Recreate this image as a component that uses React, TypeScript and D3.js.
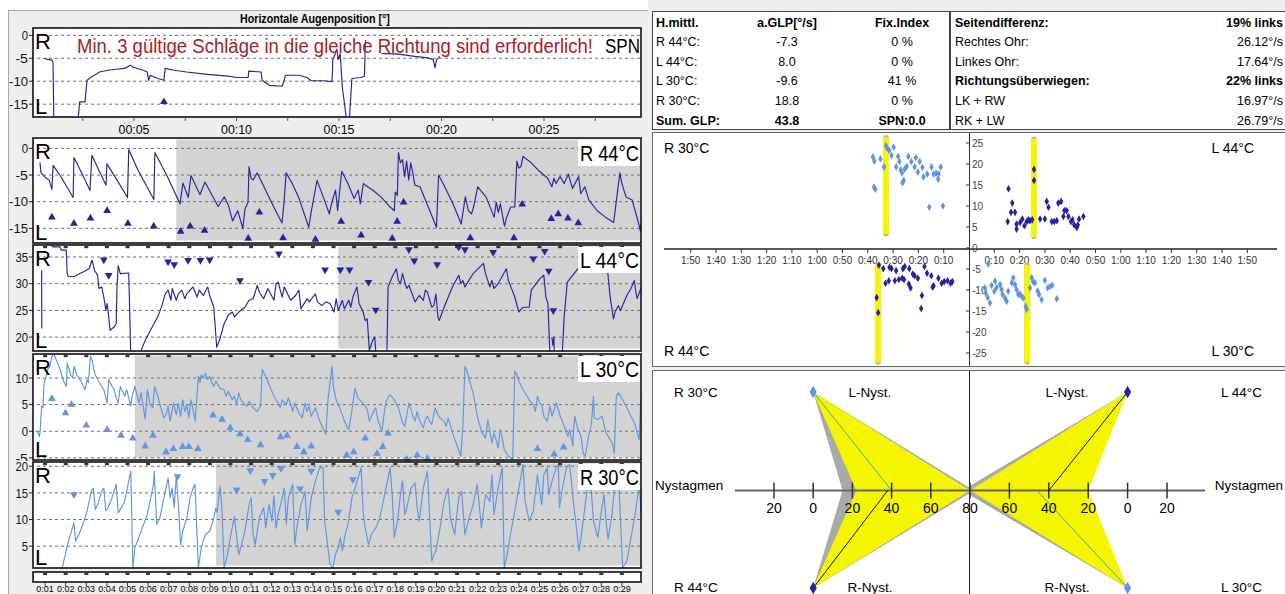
import React, { useEffect, useRef } from 'react';
import * as d3 from 'd3';

const W = 1285, H = 594;
const DARK = '#2424a2';
const LIGHT = '#6094e4';
const SHADE = '#d3d3d3';
const NARROW = "'Liberation Sans Narrow','Arial Narrow','Liberation Sans',Arial,sans-serif";
const SANS = "'Liberation Sans',Arial,sans-serif";

// ---------- time series (t in s, value in deg) ----------
const SPN_TRACE: number[][] = [
  [0.63,-5.1],[0.99,-5.4],[1.05,-5.8],[1.09,-18.5],[1.2,NaN],
  [2.27,-18.5],[2.35,-14.5],[2.61,-14.5],[2.71,-9.8],[2.92,-9.1],[3.32,-8.0],[3.73,-7.6],[4.13,-7.4],[4.54,-7.2],[4.84,-6.5],[4.94,-6.9],[5.45,-7.6],[5.65,-8.0],[5.71,-9.8],[5.79,-8.7],[6.16,-9.4],[6.46,-9.8],[6.52,-7.2],[6.96,-7.6],[7.57,-8.0],[8.58,-8.5],[9.6,-8.9],[10.0,-9.2],[10.57,-9.2],[10.6,-7.8],[11.2,-8.0],[11.25,-9.8],[11.6,-10.9],[12.23,-11.1],[12.39,-8.7],[13.04,-8.7],[13.44,-9.2],[13.64,-9.9],[14.25,-9.9],[14.66,-10.1],[14.7,-5.3],[14.82,-4.0],[14.9,-3.0],[14.96,-5.3],[15.06,-4.0],[15.16,-11.2],[15.37,-18.5],[15.51,-18.0],[15.63,-9.4],[16.07,-9.2],[16.24,-8.9],[16.27,-4.0],[16.3,-1.0],[16.5,NaN],
  [17.08,-4.0],[17.3,-4.0],[17.89,-4.1],[18.7,-4.6],[19.31,-4.9],[19.6,-5.3],[19.68,-7.1],[19.76,-5.3],[19.92,-4.6]
];
const SPN_TRI: number[][] = [[6.46,-14.5]];

const R44_TRACE: number[][] = [
  [0.75,-2.6],[0.8,-4.6],[1.0,-5.4],[1.2,-6.0],[1.33,-7.7],[1.39,-3.2],[1.8,-5.5],[2.36,-9.2],[2.4,-1.7],[2.8,-4.8],[3.18,-7.9],[3.27,-1.3],[3.6,-4.0],[3.96,-6.9],[4.0,-2.9],[4.5,-6.0],[5.0,-9.2],[5.06,-0.2],[5.5,-4.0],[6.28,-9.6],[6.33,-0.8],[6.9,-5.0],[7.55,-10.4],[7.69,-6.5],[7.95,-9.2],[8.08,-5.1],[8.52,-8.7],[8.76,-6.3],[9.4,-10.9],[9.7,-9.1],[9.9,-10.7],[10.1,-13.6],[10.35,-11.7],[10.6,-15.0],[10.7,-11.4],[10.85,-10.1],[10.9,-3.4],[11.0,-5.6],[11.1,-5.9],[11.3,-4.6],[11.7,-7.8],[12.1,-11.0],[12.5,-14.0],[12.6,-10.1],[12.7,-4.6],[13.0,-6.6],[13.3,-9.1],[13.8,-14.8],[13.9,-12.3],[14.2,-6.0],[14.5,-9.1],[14.8,-12.3],[14.9,-10.4],[15.1,-7.8],[15.2,-11.7],[15.4,-4.3],[15.7,-6.6],[16.0,-9.4],[16.2,-7.8],[16.3,-10.4],[16.45,-6.6],[16.55,-6.9],[16.9,-7.8],[17.3,-9.1],[17.75,-11.0],[17.95,-11.7],[18.0,-8.2],[18.1,-8.8],[18.15,-0.8],[18.25,-2.7],[18.35,-2.1],[18.45,-5.3],[18.55,-2.4],[18.65,-5.9],[18.75,-2.7],[18.85,-4.6],[18.95,-6.9],[19.2,-7.2],[19.6,-11.0],[20.0,-14.8],[20.1,-5.0],[20.4,-7.2],[20.8,-10.4],[21.2,-14.2],[21.4,-9.1],[21.55,-11.7],[21.7,-12.3],[21.8,-11.0],[22.0,-7.2],[22.4,-9.1],[22.8,-12.9],[22.9,-10.1],[23.0,-12.0],[23.1,-10.4],[23.3,-14.6],[23.4,-13.0],[23.6,-11.0],[23.8,-11.0],[23.9,-2.4],[24.0,-3.7],[24.1,-3.4],[24.2,-1.5],[24.6,-2.7],[25.0,-4.3],[25.4,-5.6],[25.6,-7.2],[25.7,-5.6],[25.8,-6.6],[26.0,-5.3],[26.2,-6.6],[26.4,-4.8],[26.6,-7.5],[26.9,-5.3],[27.0,-8.5],[27.2,-7.2],[27.4,-9.7],[27.8,-11.7],[28.2,-12.9],[28.6,-13.9],[28.9,-4.6],[29.0,-6.6],[29.2,-9.1],[29.5,-9.7],[29.8,-13.9],[29.9,-15.5],[30.0,-11.7]
];
const R44_TRI: number[][] = [
  [1.33,-12.9],[2.40,-14.1],[3.20,-13.1],[4.01,-11.7],[5.02,-14.1],[6.27,-14.6],[7.58,-15.6],[8.04,-14.6],[8.74,-15.4],[10.86,-16.9],[11.40,-12.0],[12.55,-16.8],[14.12,-17.1],[15.37,-13.7],[16.34,-16.3],[17.85,-16.9],[18.09,-13.7],[18.40,-10.1],[21.64,-16.8],[23.76,-16.8],[24.16,-10.5],[25.57,-13.2],[25.91,-12.3],[26.38,-13.1],[26.88,-14.0]
];

const L44_TRACE: number[][] = [
  [0.83,32.5],[0.84,21.6],[0.9,NaN],
  [1.23,37.5],[1.39,36.9],[1.73,36.9],[1.79,36.3],[2.03,36.3],[2.07,31.9],[2.13,31.3],[2.44,31.4],[2.84,32.2],[3.14,32.8],[3.28,34.4],[3.40,32.5],[3.55,31.6],[3.61,29.1],[3.75,29.4],[3.85,27.5],[3.95,25.0],[4.01,26.3],[4.09,23.8],[4.15,21.3],[4.35,21.9],[4.45,22.5],[4.49,29.4],[4.55,33.4],[4.65,31.9],[5.06,32.0],[5.16,16.5],[5.3,NaN],
  [5.56,16.5],[5.86,19.4],[6.16,21.6],[6.47,23.8],[6.67,25.9],[6.83,28.1],[6.97,28.8],[7.11,26.9],[7.17,29.1],[7.37,26.9],[7.47,28.1],[7.64,28.8],[7.78,27.2],[7.88,28.1],[8.18,29.4],[8.38,27.5],[8.48,28.8],[8.68,27.8],[8.89,29.4],[8.99,27.8],[9.19,25.6],[9.33,18.1],[9.49,19.7],[9.69,22.5],[9.89,24.1],[10.09,24.7],[10.19,23.8],[10.40,24.7],[10.70,25.6],[10.90,26.9],[11.10,27.2],[11.30,29.7],[11.40,28.4],[11.61,27.2],[11.81,29.1],[12.11,26.9],[12.21,30.0],[12.31,30.3],[12.51,27.5],[12.61,29.4],[12.92,26.9],[13.16,27.8],[13.32,28.8],[13.42,25.3],[13.72,27.2],[13.82,26.6],[14.12,28.1],[14.22,26.6],[14.43,25.9],[14.63,26.6],[14.83,26.3],[15.03,24.7],[15.13,27.2],[15.23,25.0],[15.43,26.9],[15.53,25.3],[15.74,26.9],[15.84,25.6],[15.94,27.5],[16.14,29.4],[16.24,26.3],[16.44,24.7],[16.54,23.1],[16.64,23.4],[16.74,17.5],[16.90,19.4],[17.00,20.0],[17.07,16.5],[17.3,NaN],
  [17.59,16.5],[17.65,29.4],[17.85,31.3],[18.05,32.8],[18.15,30.6],[18.25,30.0],[18.35,31.9],[18.46,30.3],[18.56,29.1],[18.66,29.7],[18.96,26.6],[19.16,27.8],[19.36,26.9],[19.46,28.8],[19.56,28.4],[19.77,25.6],[19.87,25.9],[19.97,28.1],[20.07,23.8],[20.13,23.1],[20.37,25.6],[20.77,29.4],[21.08,31.6],[21.18,30.0],[21.28,30.6],[21.38,29.4],[21.78,31.9],[22.28,33.8],[22.38,31.9],[22.59,29.4],[22.69,30.6],[22.79,29.1],[22.99,30.0],[23.39,32.8],[23.49,30.6],[23.80,27.5],[24.00,24.7],[24.20,25.6],[24.50,25.6],[24.60,28.8],[25.01,30.9],[25.21,31.6],[25.31,27.5],[25.41,26.3],[25.51,16.5],[25.55,NaN],
  [25.6,20.0],[25.65,18.5],[25.7,20.0],[25.72,16.5],[25.8,NaN],
  [26.1,16.5],[26.2,24.0],[26.35,30.3],[26.6,31.5],[27.0,33.5],[27.2,35.5],[28.2,36.5],[28.3,32.6],[28.43,27.5],[28.59,23.4],[28.67,24.7],[28.83,25.9],[28.93,25.0],[29.24,27.8],[29.44,29.1],[29.60,30.6],[29.68,28.4],[29.74,27.2],[30.0,30.0]
];
const L44_TRI: number[][] = [
  [3.85,34.5],[4.09,31.6],[6.97,34.1],[7.27,33.6],[7.94,34.4],[8.54,34.4],[8.99,34.5],[10.46,30.6],[12.35,35.6],[14.59,32.6],[15.33,32.6],[15.78,32.6],[16.70,30.3],[17.05,25.1],[18.66,36.4],[18.92,34.3],[20.03,33.6],[21.08,36.9],[21.38,36.4],[22.75,35.9],[24.70,34.7],[25.25,36.1],[25.45,32.4],[25.67,25.0]
];

const L30_TRACE: number[][] = [
  [0.52,0],[0.62,0],[0.72,-1.0],[0.76,0],[0.83,4.7],[0.89,4.4],[0.95,9.1],[1.03,10.0],[1.13,11.6],[1.23,12.2],[1.33,14.1],[1.43,14.4],[1.73,11.6],[1.83,10.3],[1.93,9.1],[2.03,8.4],[2.07,12.8],[2.24,10.6],[2.34,10.0],[2.40,12.2],[2.54,10.6],[2.74,9.4],[2.94,7.8],[3.04,9.7],[3.10,9.1],[3.20,14.1],[3.28,13.4],[3.40,10.9],[3.55,9.7],[3.85,7.8],[4.01,5.3],[4.09,9.7],[4.25,8.4],[4.35,7.8],[4.45,6.3],[4.55,5.3],[4.65,8.4],[4.86,6.6],[4.96,7.8],[5.06,6.3],[5.16,4.7],[5.22,6.6],[5.36,8.4],[5.56,5.3],[5.66,7.2],[5.86,2.2],[5.96,7.8],[6.10,5.0],[6.23,4.4],[6.31,8.4],[6.47,6.6],[6.67,3.7],[6.77,2.5],[6.87,3.1],[6.97,4.7],[7.07,1.9],[7.23,5.3],[7.37,3.1],[7.47,5.3],[7.58,2.8],[7.68,5.9],[7.78,3.7],[7.88,5.0],[7.98,2.5],[8.08,5.9],[8.18,4.1],[8.28,1.9],[8.44,10.3],[8.52,9.1],[8.58,10.6],[8.68,10.0],[8.78,10.9],[8.89,9.7],[8.99,10.3],[9.09,9.1],[9.19,8.4],[9.29,9.4],[9.49,8.1],[9.69,7.8],[9.79,6.6],[9.89,7.5],[10.09,5.9],[10.19,6.6],[10.30,5.0],[10.40,7.2],[10.50,5.9],[10.70,5.0],[10.80,4.7],[10.90,5.6],[11.10,4.4],[11.30,3.7],[11.40,4.4],[11.46,4.7],[11.54,11.6],[11.71,10.3],[11.91,8.4],[12.11,6.6],[12.31,5.3],[12.41,4.4],[12.51,5.9],[12.71,5.0],[12.81,6.3],[12.92,5.0],[13.02,3.7],[13.12,5.3],[13.32,3.4],[13.48,2.5],[13.62,5.3],[13.72,3.7],[13.82,4.7],[13.92,2.8],[14.12,4.4],[14.33,1.9],[14.63,-0.6],[14.73,5.9],[14.83,9.1],[14.93,12.2],[14.99,8.4],[15.13,5.9],[15.33,4.1],[15.53,1.9],[15.74,0.3],[15.90,4.1],[16.04,8.1],[16.18,6.3],[16.34,5.6],[16.50,5.0],[16.64,4.1],[16.74,1.9],[16.84,2.8],[16.95,3.7],[17.05,4.4],[17.15,2.2],[17.35,0],[17.45,3.1],[17.55,5.6],[17.65,6.3],[17.75,6.9],[17.95,5.9],[18.15,4.4],[18.35,1.6],[18.46,0.9],[18.66,5.3],[18.76,4.1],[18.86,2.8],[18.96,1.9],[19.06,3.7],[19.16,2.2],[19.36,0.6],[19.46,2.2],[19.56,2.8],[19.66,1.9],[19.77,1.3],[19.93,4.4],[20.07,3.1],[20.17,2.5],[20.37,1.9],[20.47,0.9],[20.57,2.5],[20.77,-0.3],[20.98,-2.5],[21.18,-4.7],[21.28,0.9],[21.38,12.2],[21.48,11.3],[21.58,9.7],[21.78,7.2],[21.98,2.8],[22.18,0],[22.38,-1.3],[22.49,2.2],[22.59,0],[22.69,-2.2],[22.79,-0.3],[22.89,-1.6],[22.99,-3.1],[23.09,0.3],[23.19,-1.3],[23.29,-3.4],[23.49,-4.7],[23.70,-5.3],[23.80,11.3],[23.90,10.6],[24.00,9.4],[24.20,7.8],[24.50,5.9],[24.70,5.0],[24.80,3.7],[24.90,6.6],[25.01,5.3],[25.11,5.0],[25.21,2.8],[25.37,1.9],[25.51,4.7],[25.61,2.8],[25.81,5.3],[25.91,4.1],[26.01,2.8],[26.21,0.9],[26.38,-1.0],[26.46,0.3],[26.62,-2.8],[26.66,0.9],[26.72,2.8],[26.82,0.9],[27.02,-1.0],[27.12,-4.1],[27.22,-4.7],[27.38,-1.0],[27.52,1.3],[27.62,6.6],[27.66,2.5],[27.83,2.2],[28.03,2.8],[28.23,-0.3],[28.53,-2.2],[28.63,-4.1],[28.73,6.6],[28.83,7.2],[29.04,5.9],[29.24,4.4],[29.44,2.8],[29.64,1.3],[29.74,-0.3],[29.84,-1.6],[29.90,4.7],[30.0,8.4]
];
const L30_TRI: number[][] = [
  [1.33,6.1],[1.99,3.4],[2.28,5.0],[3.0,1.1],[4.01,0.3],[4.69,-0.8],[5.26,-1.3],[5.86,-2.8],[6.23,-0.8],[6.87,-3.9],[7.23,-3.3],[7.68,-2.9],[7.98,-2.9],[8.42,-3.3],[9.15,3.0],[9.59,2.2],[9.99,0.6],[10.46,-0.5],[10.84,-1.6],[11.46,-2.6],[12.43,-1.1],[12.75,-0.8],[13.22,-2.9],[13.56,-3.9],[13.92,-2.8],[15.64,-4.5],[15.98,-3.9],[16.54,-1.3],[17.11,-4.2],[17.39,-2.9],[17.65,-0.4],[18.56,-5.3],[19.06,-4.5],[19.56,-5.1],[24.90,-3.3],[25.71,-4.3],[26.17,-3.0]
];

const R30_TRACE: number[][] = [
  [1.83,0.9],[2.13,5.9],[2.40,9.4],[2.48,5.9],[2.64,7.2],[2.84,9.1],[3.04,11.6],[3.24,15.3],[3.34,15.9],[3.44,11.9],[3.55,12.8],[3.75,15.3],[3.85,15.9],[3.95,11.6],[4.05,12.2],[4.25,14.1],[4.45,16.6],[4.55,11.3],[4.65,11.9],[4.86,13.4],[5.06,17.2],[5.16,19.1],[5.26,0.9],[5.36,4.7],[5.66,7.8],[5.96,10.9],[6.26,16.6],[6.30,19.1],[6.42,9.1],[6.57,10.3],[6.77,14.1],[6.97,17.8],[7.07,14.1],[7.17,15.9],[7.27,12.2],[7.37,18.4],[7.47,12.8],[7.58,5.3],[7.68,7.8],[7.88,10.3],[8.04,14.1],[8.18,15.9],[8.28,16.6],[8.38,6.6],[8.44,0.9],[8.58,4.7],[8.78,7.2],[8.99,7.8],[9.19,10.3],[9.29,12.2],[9.35,11.3],[9.49,16.3],[9.59,11.6],[9.69,0.9],[9.85,3.4],[9.99,6.6],[10.19,10.6],[10.40,3.4],[10.50,4.7],[10.70,7.8],[10.90,12.8],[11.00,14.1],[11.10,7.2],[11.20,5.3],[11.40,10.3],[11.61,12.2],[11.71,8.4],[11.87,12.8],[12.01,9.7],[12.11,14.4],[12.21,8.4],[12.31,10.9],[12.47,13.4],[12.61,15.9],[12.71,9.1],[12.81,14.1],[13.02,16.6],[13.12,5.3],[13.22,8.4],[13.42,12.8],[13.62,15.3],[13.72,7.8],[13.92,14.1],[14.12,17.2],[14.33,19.7],[14.49,19.7],[14.57,9.7],[14.69,5.9],[14.83,1.6],[14.97,0.9],[15.09,3.4],[15.23,4.7],[15.33,6.6],[15.43,4.1],[15.57,7.2],[15.70,9.1],[15.90,14.1],[16.10,16.6],[16.34,19.7],[16.44,11.3],[16.54,8.4],[16.70,5.3],[16.84,7.2],[17.05,8.4],[17.25,10.3],[17.45,14.1],[17.65,17.8],[17.75,19.7],[17.85,14.7],[17.95,6.6],[18.11,9.7],[18.25,14.7],[18.35,17.2],[18.46,10.9],[18.56,12.2],[18.76,15.9],[18.96,16.9],[19.06,12.2],[19.16,9.7],[19.36,15.9],[19.56,19.1],[19.77,2.2],[19.87,3.4],[19.97,4.1],[20.17,8.4],[20.37,13.4],[20.57,15.9],[20.67,10.3],[20.88,7.2],[21.08,14.1],[21.22,15.3],[21.38,7.2],[21.54,9.7],[21.78,12.8],[21.98,16.6],[22.18,8.4],[22.38,14.7],[22.59,13.4],[22.69,18.4],[22.79,10.9],[22.99,15.9],[23.19,19.7],[23.29,0.9],[23.43,3.4],[23.59,7.2],[23.80,11.6],[24.00,15.9],[24.20,20.3],[24.30,13.4],[24.50,9.7],[24.70,11.6],[24.90,18.4],[25.01,15.3],[25.11,12.8],[25.21,18.4],[25.37,19.7],[25.45,14.7],[25.61,17.2],[25.81,19.7],[25.91,20.3],[25.97,12.2],[26.11,15.9],[26.31,19.7],[26.46,20.3],[26.58,15.9],[26.66,12.8],[26.92,4.1],[27.12,9.7],[27.28,14.7],[27.42,18.4],[27.52,15.3],[27.62,9.7],[27.83,6.6],[27.99,11.2],[28.13,14.7],[28.23,9.7],[28.33,6.3],[28.53,11.2],[28.63,15.9],[28.83,18.4],[29.04,0.9],[29.24,2.2],[29.44,6.6],[29.64,10.9],[29.84,16.6],[30.0,7.8]
];
const R30_TRI: number[][] = [
  [2.40,14.7],[7.43,18.1],[10.30,15.6],[10.96,19.2],[11.65,17.2],[12.05,18.3],[12.45,19.6],[13.38,15.8],[13.92,19.1],[15.23,11.4],[15.94,17.5]
];

// analysis window start (s) for R44, L44, L30, R30
const WINDOW_START = [7.37, 15.23, 5.36, 9.29];
const PANEL_LABELS = ['R 44°C', 'L 44°C', 'L 30°C', 'R 30°C'];
const PANEL_TICKS = [[0, -5, -10, -15], [35, 30, 25, 20], [10, 5, 0, -5], [20, 15, 10, 5]];
const SPN_TICKS = [0, -5, -10, -15];
const SPN_AXIS_TICKS = [5, 10, 15, 20, 25];

// ---------- table ----------
const TABLE_HEAD = ['H.mittl.', 'a.GLP[°/s]', 'Fix.Index'];
const TABLE_ROWS = ['R 44°C:', 'L 44°C:', 'L 30°C:', 'R 30°C:'];
const GLP = [-7.3, 8.0, -9.6, 18.8];
const FIX = [0, 0, 41, 0];
const SUM_GLP = 43.8;
const SPN_VAL = 0.0;
const SIDE_LABELS = ['Seitendifferenz:', 'Rechtes Ohr:', 'Linkes Ohr:', 'Richtungsüberwiegen:', 'LK + RW', 'RK + LW'];
const SIDE_VALUES = ['19% links', '26.12°/s', '17.64°/s', '22% links', '16.97°/s', '26.79°/s'];
const SIDE_BOLD = [true, false, false, true, false, false];

// ---------- scatter (culmination) ----------
const SC_R30: number[][] = [[38.0,21.7],[37.4,20.7],[35.0,21.2],[33.6,19.3],[32.8,24.3],[32.3,23.8],[31.5,23.2],[29.8,24.0],[30.6,22.0],[28.0,21.8],[27.5,20.6],[28.8,19.3],[27.0,18.6],[26.5,17.9],[25.4,18.8],[24.6,19.4],[24.0,21.8],[22.8,20.6],[21.5,19.3],[21.0,21.5],[20.2,18.1],[19.5,20.6],[18.4,19.2],[18.0,16.9],[16.5,17.6],[14.8,19.3],[14.0,17.6],[13.0,17.8],[12.0,17.7],[11.2,19.3],[12.2,16.4],[26.3,15.5],[25.8,16.1],[37.5,14.5],[37.0,14.0],[15.7,9.7],[10.3,10.0]];
const SC_R44: number[][] = [[35.6,-4.1],[33.9,-4.9],[31.4,-4.6],[30.6,-4.9],[28.8,-5.4],[26.1,-4.9],[25.4,-4.4],[23.6,-4.9],[22.2,-6.2],[21.5,-6.6],[20.2,-7.2],[17.6,-4.4],[16.6,-6.0],[14.9,-6.6],[14.0,-9.0],[12.1,-7.2],[10.8,-8.4],[9.8,-8.0],[8.5,-7.8],[7.3,-8.4],[6.6,-8.0],[33.0,-8.4],[31.7,-7.8],[29.3,-7.8],[27.7,-7.5],[26.4,-7.2],[25.7,-7.5],[23.8,-8.6],[23.1,-9.5],[14.4,-9.3],[18.6,-11.3],[18.9,-14.4],[36.5,-11.8],[35.9,-15.4]];
const SC_L44: number[][] = [[15.3,6.3],[15.6,14.1],[17.1,10.7],[16.6,8.5],[18.2,8.5],[18.8,5.7],[18.8,4.5],[20.2,6.1],[21.1,6.9],[21.9,5.3],[22.8,6.3],[23.5,6.7],[24.1,6.5],[25.0,6.7],[25.7,18.7],[25.7,16.1],[28.1,6.9],[30.0,6.9],[30.7,11.1],[31.4,9.7],[32.7,6.3],[33.7,6.3],[34.7,6.5],[35.3,10.7],[36.4,11.1],[37.3,7.5],[37.7,8.9],[38.6,8.9],[39.3,7.5],[40.3,6.3],[40.9,6.7],[41.6,5.5],[42.6,4.9],[43.0,5.5],[43.5,6.9],[45.2,7.5]];
const SC_L30: number[][] = [[7.6,-3.8],[6.3,-9.5],[6.6,-10.7],[7.4,-11.8],[8.3,-13.1],[8.9,-8.9],[10.3,-7.9],[10.9,-9.4],[10.0,-10.3],[12.3,-8.7],[12.9,-9.9],[13.2,-11.0],[14.2,-11.9],[14.9,-12.7],[15.5,-10.3],[16.9,-8.3],[17.5,-7.1],[18.2,-8.7],[18.8,-9.9],[19.5,-11.1],[20.2,-11.0],[20.8,-11.5],[21.5,-11.9],[22.4,-13.9],[22.8,-14.6],[24.1,-9.5],[24.8,-7.1],[25.4,-8.1],[26.1,-8.3],[27.1,-10.2],[27.7,-11.1],[28.7,-12.3],[30.0,-7.7],[31.1,-9.5],[32.0,-9.1],[32.9,-8.9],[34.7,-12.1]];
// culmination bars: time, from, to  (R30, R44, L44, L30)
const BAR_TIME = [32.8, 35.9, 25.7, 23.0];
const BAR_FROM = [3.3, -27.3, 2.6, -27.3];
const BAR_TO = [26.4, -3.8, 26.1, -4.0];
const SC_XTICKS = [10, 20, 30, 40, 50, 60, 70, 80, 90, 100, 110];
const SC_YTICKS = [25, 20, 15, 10, 5, 0, -5, -10, -15, -20, -25];

// ---------- butterfly ----------
const BF_TICKS_LEFT = [-20, 0, 20, 40, 60, 80];
const BF_TICKS_RIGHT = [-20, 0, 20, 40, 60];
const BF_YELLOW_INNER = [22, 20];   // left, right
const BF_GRAY_INNER = [15, 25];
const BF_GRAY_OUTER = [82, 84];
const BF_LINE_VALUES = [40, 38, 40, 46]; // R30, R44, L44, L30

const fmt1 = (v: number) => v.toFixed(1);

export default function App() {
  const ref = useRef<SVGSVGElement>(null);
  useEffect(() => {
    const svg = d3.select(ref.current!);
    svg.selectAll('*').remove();

    // text squeezed horizontally to a target width (narrow-font look)
    function squeezed(parent: any, txt: string, x: number, y: number, width: number, anchor: string, size: number, family: string, fill = '#000', weight = 'normal') {
      const g = parent.append('g');
      const t = g.append('text').attr('font-family', family).attr('font-size', size).attr('fill', fill)
        .attr('font-weight', weight).text(txt);
      const natural = (t.node() as SVGTextElement).getComputedTextLength() || width;
      const s = Math.min(1, width / natural);
      const w = natural * s;
      const left = anchor === 'end' ? x - w : anchor === 'middle' ? x - w / 2 : x;
      g.attr('transform', `translate(${left},${y}) scale(${s},1)`);
      return g;
    }

    svg.append('rect').attr('width', W).attr('height', H).attr('fill', '#ffffff');
    svg.append('rect').attr('x', 8.5).attr('y', 10.5).attr('width', 640).attr('height', 600)
      .attr('fill', '#efefef').attr('stroke', '#a8a8a8');
    svg.append('rect').attr('x', 648).attr('y', 0).attr('width', 637).attr('height', H).attr('fill', '#efefef');

    squeezed(svg, 'Horizontale Augenposition [°]', 315, 23, 150, 'middle', 13, SANS, '#000', 'bold');

    const defs = svg.append('defs');
    const X0 = 33, X1 = 641;
    const xMain = d3.scaleLinear().domain([0, 30]).range([24.5, 642.5]);
    const xSpn = d3.scaleLinear().domain([0, 30]).range([31.5, 646.5]);

    const triUp = d3.symbol().type(d3.symbolTriangle).size(26);

    function drawPanel(opts: any, idx: number) {
      const { top, bottom, domain, ticks, trace, tri, triDown, color, xs, label, shadeFrom, topTicks } = opts;
      const y = d3.scaleLinear().domain(domain).range([bottom, top]);
      const g = svg.append('g');
      g.append('rect').attr('x', X0).attr('y', top).attr('width', X1 - X0).attr('height', bottom - top)
        .attr('fill', '#fff');
      if (shadeFrom != null) {
        g.append('rect').attr('x', xs(shadeFrom)).attr('y', top + 1.5)
          .attr('width', X1 - 1 - xs(shadeFrom)).attr('height', bottom - top - 4).attr('fill', SHADE);
      }
      const lid = 'lclip' + idx;
      defs.append('clipPath').attr('id', lid).append('rect')
        .attr('x', 0).attr('y', top - 8).attr('width', X0).attr('height', bottom - top + 9);
      ticks.forEach((v: number) => {
        g.append('line').attr('x1', X0 + 4).attr('x2', X1 - 1).attr('y1', y(v)).attr('y2', y(v))
          .attr('stroke', '#6e6e6e').attr('stroke-dasharray', '3,3');
        g.append('line').attr('x1', X0 - 4).attr('x2', X0).attr('y1', y(v)).attr('y2', y(v)).attr('stroke', '#222');
        const lbl = String(v);
        g.append('text').attr('x', X0 - 5).attr('y', y(v)).attr('dy', '0.36em').attr('text-anchor', 'end')
          .attr('font-family', NARROW).attr('font-size', 13).attr('fill', '#111')
          .attr('clip-path', `url(#${lid})`)
          .attr('textLength', lbl.length * 6.3).attr('lengthAdjust', 'spacingAndGlyphs').text(lbl);
      });
      const cid = 'clip' + idx;
      defs.append('clipPath').attr('id', cid).append('rect')
        .attr('x', X0).attr('y', top).attr('width', X1 - X0).attr('height', bottom - top);
      const line = d3.line<number[]>().defined(d => !isNaN(d[1])).x(d => xs(d[0])).y(d => y(d[1]));
      g.append('path').attr('d', line(trace) || '').attr('fill', 'none').attr('stroke', color)
        .attr('stroke-width', 1.15).attr('stroke-linejoin', 'round').attr('clip-path', `url(#${cid})`);
      g.selectAll('path.tri').data(tri).enter().append('path').attr('class', 'tri')
        .attr('d', triUp as any).attr('fill', color)
        .attr('transform', (d: any) => `translate(${xs(d[0])},${y(d[1])})${triDown ? ' rotate(180)' : ''}`);
      if (topTicks) {
        d3.range(1, 30).forEach(t => {
          g.append('rect').attr('x', xs(t) - 2).attr('y', top + 1).attr('width', 4).attr('height', 2.2).attr('fill', '#333');
        });
      }
      g.append('rect').attr('x', X0).attr('y', top).attr('width', X1 - X0).attr('height', bottom - top)
        .attr('fill', 'none').attr('stroke', '#111').attr('stroke-width', 1.6);
      g.append('text').attr('x', X0 + 2).attr('y', top + 21).attr('font-family', SANS).attr('font-size', 22).text('R');
      g.append('text').attr('x', X0 + 2).attr('y', bottom - 3).attr('font-family', SANS).attr('font-size', 22).text('L');
      if (label) {
        g.append('rect').attr('x', 578).attr('y', top + 2).attr('width', 62).attr('height', 26).attr('fill', '#fff');
        squeezed(g, label, 639, top + 23, 59, 'end', 22, SANS);
      }
    }

    // SPN panel
    drawPanel({ top: 28, bottom: 117, domain: [-17.8, 1.6], ticks: SPN_TICKS, trace: SPN_TRACE, tri: SPN_TRI,
      triDown: false, color: DARK, xs: xSpn, label: null, shadeFrom: null, topTicks: false }, 0);
    squeezed(svg, 'Min. 3 gültige Schläge in die gleiche Richtung sind erforderlich!', 77, 53, 516, 'start', 21, SANS, '#a82222');
    squeezed(svg, 'SPN', 640, 53, 35, 'end', 21, SANS);
    d3.range(1, 12).forEach(i => {
      const t = i * 2.5;
      svg.append('line').attr('x1', xSpn(t)).attr('x2', xSpn(t)).attr('y1', 117).attr('y2', 121).attr('stroke', '#555');
    });
    SPN_AXIS_TICKS.forEach(t => {
      squeezed(svg, '00:' + d3.format('02d')(t), xSpn(t), 134, 31, 'middle', 12.5, SANS);
    });

    const geo = [
      { top: 138, bottom: 243, domain: [-17.75, 1.95] },
      { top: 245, bottom: 351, domain: [17.4, 37.25] },
      { top: 354, bottom: 460, domain: [-5.4, 14.5] },
      { top: 462, bottom: 568, domain: [0.9, 20.8] },
    ];
    const traces = [R44_TRACE, L44_TRACE, L30_TRACE, R30_TRACE];
    const tris = [R44_TRI, L44_TRI, L30_TRI, R30_TRI];
    const triDowns = [false, true, false, true];
    const colors = [DARK, DARK, LIGHT, LIGHT];
    geo.forEach((gm, i) => {
      drawPanel({ ...gm, ticks: PANEL_TICKS[i], trace: traces[i], tri: tris[i], triDown: triDowns[i],
        color: colors[i], xs: xMain, label: PANEL_LABELS[i], shadeFrom: WINDOW_START[i], topTicks: i > 0 }, i + 1);
    });

    // time strip
    svg.append('rect').attr('x', X0).attr('y', 572).attr('width', X1 - X0).attr('height', 10)
      .attr('fill', '#fff').attr('stroke', '#111').attr('stroke-width', 1.6);
    d3.range(1, 30).forEach(t => {
      svg.append('rect').attr('x', xMain(t) - 2).attr('y', 573).attr('width', 4).attr('height', 2).attr('fill', '#333');
      svg.append('line').attr('x1', xMain(t)).attr('x2', xMain(t)).attr('y1', 582).attr('y2', 586).attr('stroke', '#333');
      squeezed(svg, '0:' + d3.format('02d')(t), xMain(t), 592, 17.5, 'middle', 9, SANS);
    });

    // ---------- table ----------
    const tbl = svg.append('g').attr('font-family', NARROW).attr('font-size', 12.5).attr('fill', '#000');
    tbl.append('rect').attr('x', 652.5).attr('y', 11.5).attr('width', 297).attr('height', 118).attr('fill', '#fff').attr('stroke', '#444');
    tbl.append('rect').attr('x', 950.5).attr('y', 11.5).attr('width', 340).attr('height', 118).attr('fill', '#fff').attr('stroke', '#444');
    const rowY = (i: number) => 22 + i * 19.6;
    const colX = [656, 787, 902];
    TABLE_HEAD.forEach((h, j) => {
      tbl.append('text').attr('x', colX[j]).attr('y', rowY(0)).attr('dy', '0.36em')
        .attr('text-anchor', j === 0 ? 'start' : 'middle').attr('font-weight', 'bold').text(h);
    });
    TABLE_ROWS.forEach((r, i) => {
      const yy = rowY(i + 1);
      tbl.append('text').attr('x', colX[0]).attr('y', yy).attr('dy', '0.36em').text(r);
      tbl.append('text').attr('x', colX[1]).attr('y', yy).attr('dy', '0.36em').attr('text-anchor', 'middle').text(fmt1(GLP[i]));
      tbl.append('text').attr('x', colX[2]).attr('y', yy).attr('dy', '0.36em').attr('text-anchor', 'middle').text(FIX[i] + ' %');
    });
    const sy = rowY(5);
    tbl.append('text').attr('x', colX[0]).attr('y', sy).attr('dy', '0.36em').attr('font-weight', 'bold').text('Sum. GLP:');
    tbl.append('text').attr('x', colX[1]).attr('y', sy).attr('dy', '0.36em').attr('text-anchor', 'middle').attr('font-weight', 'bold').text(fmt1(SUM_GLP));
    tbl.append('text').attr('x', colX[2]).attr('y', sy).attr('dy', '0.36em').attr('text-anchor', 'middle').attr('font-weight', 'bold').text('SPN:' + fmt1(SPN_VAL));
    SIDE_LABELS.forEach((l, i) => {
      const yy = rowY(i);
      tbl.append('text').attr('x', 955).attr('y', yy).attr('dy', '0.36em').attr('font-weight', SIDE_BOLD[i] ? 'bold' : 'normal').text(l);
      tbl.append('text').attr('x', 1283).attr('y', yy).attr('dy', '0.36em').attr('text-anchor', 'end')
        .attr('font-weight', SIDE_BOLD[i] ? 'bold' : 'normal').text(SIDE_VALUES[i]);
    });

    // ---------- scatter ----------
    const sc = svg.append('g');
    sc.append('rect').attr('x', 652.5).attr('y', 132.5).attr('width', 640).attr('height', 234).attr('fill', '#fff').attr('stroke', '#666');
    const CX = 969;
    const xl = d3.scaleLinear().domain([0, 120]).range([CX, CX - 120 * 2.53]);
    const xr = d3.scaleLinear().domain([0, 120]).range([CX, CX + 120 * 2.53]);
    const ys = d3.scaleLinear().domain([-25, 25]).range([353, 143]);
    sc.append('line').attr('x1', CX + 0.5).attr('x2', CX + 0.5).attr('y1', 133).attr('y2', 366).attr('stroke', '#333');
    sc.append('line').attr('x1', 664).attr('x2', 1277).attr('y1', ys(0) + 1).attr('y2', ys(0) + 1).attr('stroke', '#222').attr('stroke-width', 1.5);
    const fmtT = (s: number) => Math.floor(s / 60) + ':' + d3.format('02d')(s % 60);
    SC_XTICKS.forEach(t => {
      [xl(t), xr(t)].forEach(xx => {
        sc.append('line').attr('x1', xx).attr('x2', xx).attr('y1', ys(0) + 1).attr('y2', ys(0) + 5).attr('stroke', '#333');
        sc.append('text').attr('x', xx).attr('y', ys(0) + 16).attr('text-anchor', 'middle').attr('font-family', NARROW)
          .attr('font-size', 10).attr('fill', '#333').text(fmtT(t));
      });
    });
    SC_YTICKS.forEach(v => {
      sc.append('line').attr('x1', CX - 3).attr('x2', CX + 1).attr('y1', ys(v)).attr('y2', ys(v)).attr('stroke', '#333');
      sc.append('text').attr('x', CX + 3).attr('y', ys(v)).attr('dy', '0.36em').attr('font-family', NARROW)
        .attr('font-size', 10).attr('fill', '#444').text(String(v));
    });
    const barX = [xl, xl, xr, xr];
    BAR_TIME.forEach((t, i) => {
      const xx = barX[i](t);
      const y1 = ys(Math.max(BAR_FROM[i], BAR_TO[i])), y2 = ys(Math.min(BAR_FROM[i], BAR_TO[i]));
      sc.append('rect').attr('x', xx - 3).attr('y', y1 - 2).attr('width', 6).attr('height', y2 - y1 + 4)
        .attr('rx', 3).attr('fill', '#b4b4b4');
      sc.append('rect').attr('x', xx - 3).attr('y', y1).attr('width', 6).attr('height', y2 - y1).attr('fill', '#f6f600');
    });
    const dia = d3.symbol().type(d3.symbolDiamond).size(17);
    const sets = [[SC_R30, xl, LIGHT], [SC_R44, xl, DARK], [SC_L44, xr, DARK], [SC_L30, xr, LIGHT]] as any[];
    sets.forEach(([data, xs, col]) => {
      sc.selectAll(null).data(data).enter().append('path').attr('d', dia as any).attr('fill', col)
        .attr('transform', (d: any) => `translate(${xs(d[0])},${ys(d[1])})`);
    });
    const scLab = [['R 30°C', 664, 153, 'start'], ['R 44°C', 664, 356, 'start'], ['L 44°C', 1254, 153, 'end'], ['L 30°C', 1254, 356, 'end']] as any[];
    scLab.forEach(([t, x, y, a]) => sc.append('text').attr('x', x).attr('y', y).attr('text-anchor', a)
      .attr('font-family', SANS).attr('font-size', 14).text(t));

    // ---------- butterfly ----------
    const bf = svg.append('g');
    bf.append('rect').attr('x', 652.5).attr('y', 370.5).attr('width', 640).attr('height', 240).attr('fill', '#fff').attr('stroke', '#666');
    const bl = d3.scaleLinear().domain([-20, 80]).range([774, 970]);
    const br = d3.scaleLinear().domain([-20, 80]).range([1167, 970]);
    const AY = 490.5, TY = 392, BY = 588;
    const poly = (pts: number[][]) => 'M' + pts.map(p => p.join(',')).join('L') + 'Z';
    bf.append('path').attr('d', poly([[bl(0), TY], [bl(BF_GRAY_OUTER[0]), AY], [bl(0), BY], [bl(BF_GRAY_INNER[0]), AY]])).attr('fill', '#a9a9a9');
    bf.append('path').attr('d', poly([[br(0), TY], [br(BF_GRAY_OUTER[1]), AY], [br(0), BY], [br(BF_GRAY_INNER[1]), AY]])).attr('fill', '#a9a9a9');
    bf.append('path').attr('d', poly([[bl(0), TY], [bl(80), AY], [bl(0), BY], [bl(BF_YELLOW_INNER[0]), AY]])).attr('fill', '#f5f500');
    bf.append('path').attr('d', poly([[br(0), TY], [br(80), AY], [br(0), BY], [br(BF_YELLOW_INNER[1]), AY]])).attr('fill', '#f5f500');
    bf.append('line').attr('x1', 969.5).attr('x2', 969.5).attr('y1', 371).attr('y2', 594).attr('stroke', '#222');
    bf.append('line').attr('x1', 735).attr('x2', 1205).attr('y1', AY).attr('y2', AY).attr('stroke', '#666').attr('stroke-width', 2);
    BF_TICKS_LEFT.forEach(v => {
      bf.append('line').attr('x1', bl(v)).attr('x2', bl(v)).attr('y1', AY - 8).attr('y2', AY + 8).attr('stroke', '#333').attr('stroke-width', 1.5);
      bf.append('text').attr('x', bl(v)).attr('y', AY + 22).attr('text-anchor', 'middle').attr('font-family', NARROW)
        .attr('font-size', 14).text(String(Math.abs(v)));
    });
    BF_TICKS_RIGHT.forEach(v => {
      bf.append('line').attr('x1', br(v)).attr('x2', br(v)).attr('y1', AY - 8).attr('y2', AY + 8).attr('stroke', '#333').attr('stroke-width', 1.5);
      bf.append('text').attr('x', br(v)).attr('y', AY + 22).attr('text-anchor', 'middle').attr('font-family', NARROW)
        .attr('font-size', 14).text(String(Math.abs(v)));
    });
    const lineDefs = [[bl, TY, BF_LINE_VALUES[0], '#4aa3a8'], [bl, BY, BF_LINE_VALUES[1], '#111'], [br, TY, BF_LINE_VALUES[2], '#111'], [br, BY, BF_LINE_VALUES[3], '#4aa3a8']] as any[];
    lineDefs.forEach(([sx, yy, v, col]) => {
      bf.append('line').attr('x1', sx(0)).attr('y1', yy).attr('x2', sx(v)).attr('y2', AY).attr('stroke', col).attr('stroke-width', 1);
    });
    const dia2 = d3.symbol().type(d3.symbolDiamond).size(45);
    [[bl, TY, LIGHT], [bl, BY, DARK], [br, TY, DARK], [br, BY, LIGHT]].forEach(([sx, yy, col]: any) => {
      bf.append('path').attr('d', dia2 as any).attr('fill', col).attr('transform', `translate(${sx(0)},${yy})`);
    });
    const bfLab = [
      ['R 30°C', 674, TY, 'start'], ['L-Nyst.', 870, TY, 'middle'], ['L-Nyst.', 1067, TY, 'middle'], ['L 44°C', 1262, TY, 'end'],
      ['Nystagmen', 655, AY - 5, 'start'], ['Nystagmen', 1283, AY - 5, 'end'],
      ['R 44°C', 674, BY - 1, 'start'], ['R-Nyst.', 870, BY - 1, 'middle'], ['R-Nyst.', 1067, BY - 1, 'middle'], ['L 30°C', 1262, BY - 1, 'end'],
    ] as any[];
    bfLab.forEach(([t, x, y, a]) => bf.append('text').attr('x', x).attr('y', y).attr('dy', '0.36em').attr('text-anchor', a)
      .attr('font-family', NARROW).attr('font-size', 13.5).text(t));
  }, []);
  return (
    <div style={{ position: 'absolute', left: 0, top: 0 }}>
      <svg ref={ref} width={W} height={H} style={{ display: 'block' }} />
    </div>
  );
}
